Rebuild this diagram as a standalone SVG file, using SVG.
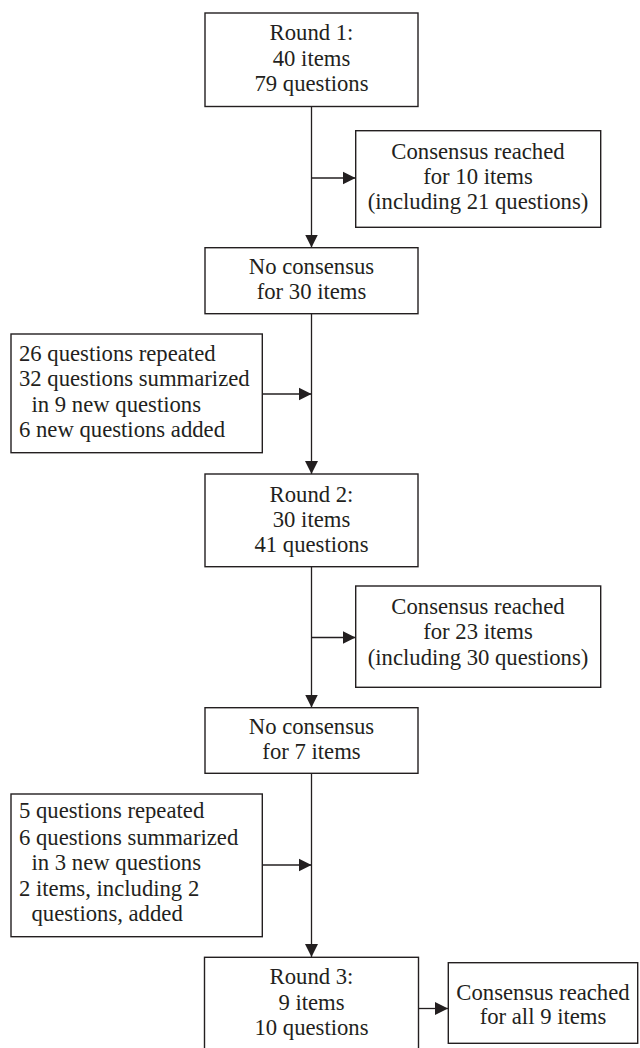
<svg xmlns="http://www.w3.org/2000/svg" width="640" height="1048" viewBox="0 0 640 1048">
<style>
.box{fill:#fff;stroke:#231f20;stroke-width:1.4}
.ln{stroke:#231f20;stroke-width:1.3;fill:none}
text{font-family:"Liberation Serif","Times New Roman",serif;font-size:22.7px;fill:#231f20}
.c{text-anchor:middle}
</style>
<defs>
<marker id="ah" viewBox="0 0 13 14" refX="13" refY="7" markerWidth="13" markerHeight="14" markerUnits="userSpaceOnUse" orient="auto">
<path d="M0,0.5 L13,7 L0,13.5 Z" fill="#231f20"/>
</marker>
</defs>
<rect width="640" height="1048" fill="#fff"/>
<g id="connectors">
<line class="ln" x1="311.5" y1="106" x2="311.5" y2="247.5" marker-end="url(#ah)"/>
<line class="ln" x1="311.5" y1="178" x2="355.5" y2="178" marker-end="url(#ah)"/>
<line class="ln" x1="311.5" y1="314" x2="311.5" y2="474" marker-end="url(#ah)"/>
<line class="ln" x1="262.5" y1="394" x2="311.5" y2="394" marker-end="url(#ah)"/>
<line class="ln" x1="311.5" y1="567" x2="311.5" y2="707.5" marker-end="url(#ah)"/>
<line class="ln" x1="311.5" y1="637.5" x2="355.5" y2="637.5" marker-end="url(#ah)"/>
<line class="ln" x1="311.5" y1="773.5" x2="311.5" y2="957" marker-end="url(#ah)"/>
<line class="ln" x1="262.5" y1="865" x2="311.5" y2="865" marker-end="url(#ah)"/>
<line class="ln" x1="418.5" y1="1008.5" x2="448" y2="1008.5" marker-end="url(#ah)"/>
</g>
<g id="round1">
<rect class="box" x="205" y="13" width="213" height="93.5"/>
<text class="c" x="311.5" y="39.5">Round 1:</text>
<text class="c" x="311.5" y="65.5">40 items</text>
<text class="c" x="311.5" y="90.5">79 questions</text>
</g>
<g id="consensus1">
<rect class="box" x="355.7" y="130.7" width="245" height="96.6"/>
<text class="c" x="478" y="158.5">Consensus reached</text>
<text class="c" x="478" y="183.5">for 10 items</text>
<text class="c" x="478" y="208.5">(including 21 questions)</text>
</g>
<g id="noconsensus1">
<rect class="box" x="205" y="247.7" width="213" height="66"/>
<text class="c" x="311.5" y="273.5">No consensus</text>
<text class="c" x="311.5" y="299">for 30 items</text>
</g>
<g id="changes1">
<rect class="box" x="11" y="334" width="251.3" height="118.7"/>
<text x="19" y="360.7">26 questions repeated</text>
<text x="19" y="386">32 questions summarized</text>
<text x="31.5" y="411.5">in 9 new questions</text>
<text x="19" y="436.7">6 new questions added</text>
</g>
<g id="round2">
<rect class="box" x="205" y="474" width="213" height="92.7"/>
<text class="c" x="311.5" y="501.5">Round 2:</text>
<text class="c" x="311.5" y="526.5">30 items</text>
<text class="c" x="311.5" y="551.5">41 questions</text>
</g>
<g id="consensus2">
<rect class="box" x="355.7" y="586" width="245" height="101.3"/>
<text class="c" x="478" y="614">Consensus reached</text>
<text class="c" x="478" y="639">for 23 items</text>
<text class="c" x="478" y="664.5">(including 30 questions)</text>
</g>
<g id="noconsensus2">
<rect class="box" x="205" y="707.7" width="213" height="65.6"/>
<text class="c" x="311.5" y="733.5">No consensus</text>
<text class="c" x="311.5" y="759">for 7 items</text>
</g>
<g id="changes2">
<rect class="box" x="11" y="794" width="251.3" height="142.7"/>
<text x="19" y="818">5 questions repeated</text>
<text x="19" y="844.5">6 questions summarized</text>
<text x="31.5" y="870">in 3 new questions</text>
<text x="19" y="896">2 items, including 2</text>
<text x="31.5" y="921">questions, added</text>
</g>
<g id="round3">
<rect class="box" x="204.5" y="957.3" width="214" height="100"/>
<text class="c" x="311.5" y="983.5">Round 3:</text>
<text class="c" x="311.5" y="1009.5">9 items</text>
<text class="c" x="311.5" y="1035">10 questions</text>
</g>
<g id="consensus3">
<rect class="box" x="448.3" y="962.7" width="189.4" height="80.6"/>
<text class="c" x="543" y="999.5">Consensus reached</text>
<text class="c" x="543" y="1024">for all 9 items</text>
</g>
</svg>
